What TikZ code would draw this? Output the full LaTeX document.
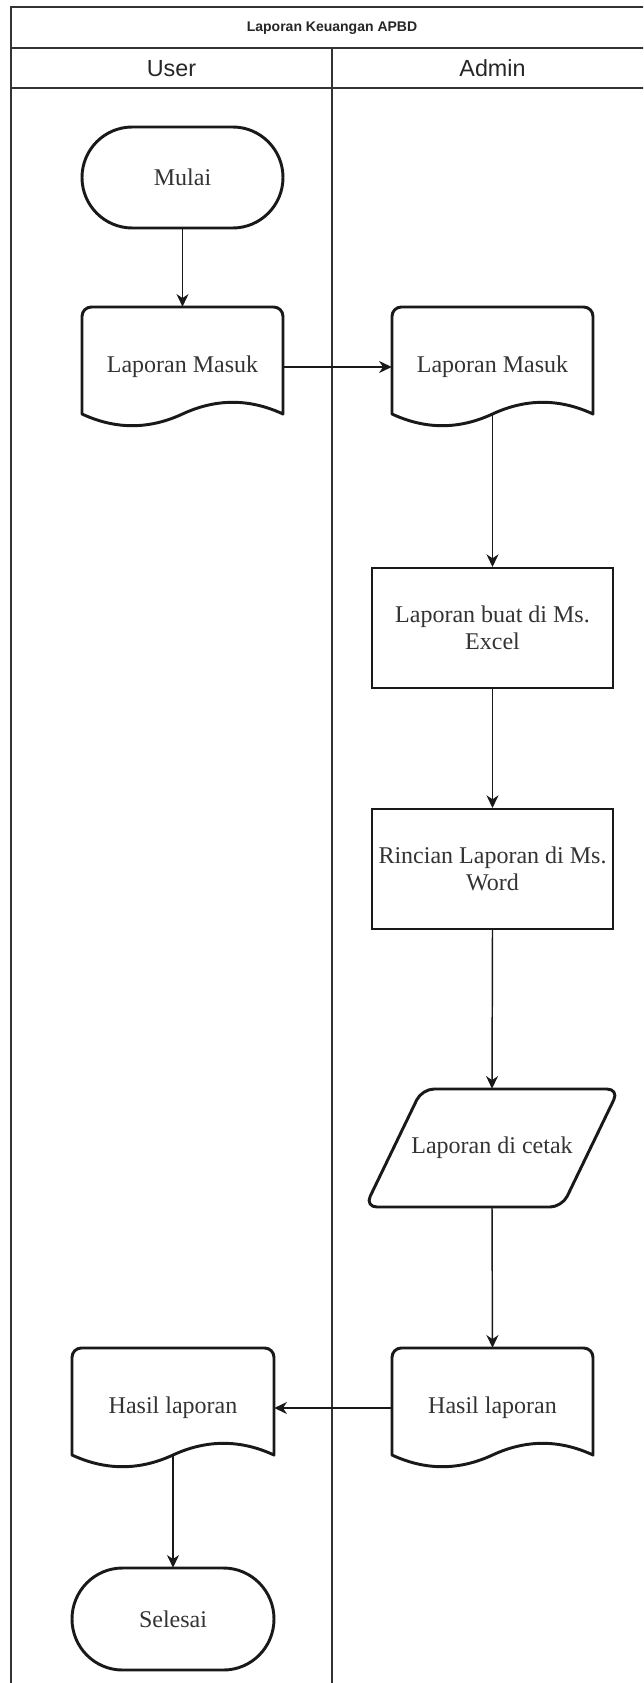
\documentclass[tikz,border=0pt]{standalone}
\usepackage{fontspec}
\setmainfont{Liberation Serif}
\newfontfamily\lanefont{Liberation Sans}
\usetikzlibrary{arrows.meta}

% one unit = one pixel, y grows downwards
\tikzset{
  frameline/.style={line width=1.9pt, draw=black!80},
  thickline/.style={line width=2.2pt, draw=black!90, line join=round},
  boxline/.style={line width=1.5pt, draw=black!90},
  flow/.style={line width=1.1pt, draw=black!90, -{Stealth[length=9.5pt,width=9pt,inset=3pt]}},
  txt/.style={font=\fontsize{18}{20.25}\selectfont, text=black!80, align=center, inner sep=0pt},
  holder/.style={draw=none, inner sep=0pt, minimum width=#1},
  procbox/.style={boxline, inner sep=0pt, minimum width=180.75pt, minimum height=90pt,
                  font=\fontsize{18}{20.25}\selectfont, text=black!80, align=center}
}

% document shape: left x, top y, width, height
\newcommand{\docpath}[4]{%
  \pgfmathsetmacro{\dcL}{#1}\pgfmathsetmacro{\dcT}{#2}%
  \pgfmathsetmacro{\dcW}{#3}\pgfmathsetmacro{\dcH}{#4}%
  \pgfmathsetmacro{\dcS}{\dcT+\dcH-13}%
  \pgfmathsetmacro{\dcUp}{\dcT+\dcH-28.6}%
  \pgfmathsetmacro{\dcDn}{\dcT+\dcH+2.6}%
  \draw[thickline] (\dcL,\dcS) [rounded corners=7] -- (\dcL,\dcT) -- (\dcL+\dcW,\dcT) [sharp corners] -- (\dcL+\dcW,\dcS)
    .. controls (\dcL+0.8333*\dcW,\dcUp) and (\dcL+0.6667*\dcW,\dcUp) .. (\dcL+0.5*\dcW,\dcS)
    .. controls (\dcL+0.3333*\dcW,\dcDn) and (\dcL+0.1667*\dcW,\dcDn) .. (\dcL,\dcS) -- cycle;
}
% terminator shape: left x, top y, width, height
\newcommand{\termpath}[4]{%
  \pgfmathsetmacro{\tmL}{#1}\pgfmathsetmacro{\tmT}{#2}%
  \pgfmathsetmacro{\tmW}{#3}\pgfmathsetmacro{\tmH}{#4}%
  \draw[thickline] (\tmL+0.25*\tmW,\tmT) -- (\tmL+0.75*\tmW,\tmT)
    arc[start angle=-90, end angle=90, x radius=0.25*\tmW, y radius=0.5*\tmH]
    -- (\tmL+0.25*\tmW,\tmT+\tmH)
    arc[start angle=90, end angle=270, x radius=0.25*\tmW, y radius=0.5*\tmH] -- cycle;
}

\begin{document}
\begin{tikzpicture}[x=0.75pt, y=-0.75pt]
\useasboundingbox (0,0) rectangle (643,1683);
\fill[white] (0,0) rectangle (643,1683);

\begin{scope}
\clip (0,0) rectangle (643,1683);
% pool frame and lane borders
\draw[frameline] (11,1700) -- (11,7) -- (660,7);
\draw[frameline] (11,48) -- (660,48);
\draw[frameline] (11,88) -- (660,88);
\draw[frameline] (332,48) -- (332,1700);
\end{scope}

\node[inner sep=0pt, font=\lanefont\bfseries\fontsize{10.5}{12}\selectfont, text=black!85] (pool) at (332,28) {Laporan Keuangan APBD};
\node[inner sep=0pt, font=\lanefont\fontsize{17.5}{19}\selectfont, text=black!85] (laneU) at (171.5,68.5) {User};
\node[inner sep=0pt, font=\lanefont\fontsize{17.5}{19}\selectfont, text=black!85] (laneA) at (492.5,68.5) {Admin};

% shapes
\termpath{82}{127}{201}{101}
\node[txt, holder=150.75pt, minimum height=75.75pt] (mulai) at (182.5,177.5) {Mulai};

\docpath{82}{307}{201}{120}
\node[txt, holder=150.75pt, minimum height=90pt] (lmU) at (182.5,367) {Laporan Masuk};

\docpath{392}{307}{201}{120}
\node[txt, holder=150.75pt, minimum height=90pt] (lmA) at (492.5,367) {Laporan Masuk};
\coordinate (lmAout) at (492.5,414);

\node[procbox] (excel) at (492.5,628) {Laporan buat di Ms.\\Excel};
\node[procbox] (word) at (492.5,869) {Rincian Laporan di Ms.\\Word};

\draw[thickline, rounded corners=9] (422,1089) -- (619,1089) -- (562,1207) -- (365,1207) -- cycle;
\node[txt, holder=190pt, minimum height=88.5pt] (cetak) at (492,1148) {Laporan di cetak};

\docpath{392}{1348}{201}{120}
\node[txt, holder=150.75pt, minimum height=90pt] (hasilA) at (492.5,1408) {Hasil laporan};

\docpath{72}{1348}{202}{120}
\node[txt, holder=151.5pt, minimum height=90pt] (hasilU) at (173,1408) {Hasil laporan};
\coordinate (hasilUout) at (173,1455);

\termpath{72}{1568}{202}{102}
\node[txt, holder=151.5pt, minimum height=76.5pt] (selesai) at (173,1619) {Selesai};

% connectors
\draw[flow] (mulai.south) -- (lmU.north);
\draw[flow] (lmU.east) -- (lmA.west);
\draw[flow] (lmAout) -- (excel.north);
\draw[flow] (excel.south) -- (word.north);
\draw[flow] (word.south) -- (cetak.north);
\draw[flow] (cetak.south) -- (hasilA.north);
\draw[flow] (hasilA.west) -- (hasilU.east);
\draw[flow] (hasilUout) -- (selesai.north);
\end{tikzpicture}
\end{document}
